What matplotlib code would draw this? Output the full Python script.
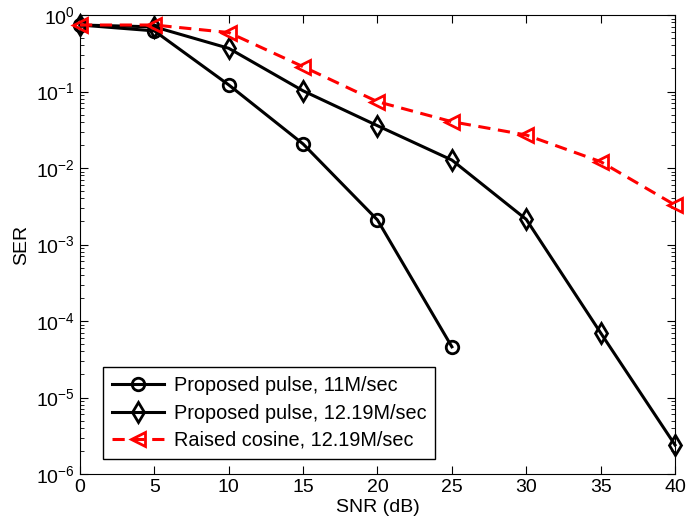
# SER vs SNR curves - proposed pulses vs raised cosine
import matplotlib
matplotlib.use("Agg")
import matplotlib.pyplot as plt

plt.rcParams["font.family"] = ["Liberation Sans", "DejaVu Sans"]
plt.rcParams["mathtext.fontset"] = "custom"
plt.rcParams["mathtext.rm"] = "Liberation Sans"
plt.rcParams["mathtext.it"] = "Liberation Sans"

snr = [0, 5, 10, 15, 20, 25, 30, 35, 40]
snr_11m = [0, 5, 10, 15, 20, 25]

ser_11m = [0.74, 0.62, 0.122, 0.0206, 0.00209, 4.6e-5]
ser_1219m = [0.74, 0.70, 0.367, 0.102, 0.0357, 0.0127, 0.00213, 7.0e-5, 2.4e-6]
ser_rc = [0.74, 0.74, 0.59, 0.211, 0.0736, 0.0403, 0.027, 0.0121, 0.00328]

labels = ["Proposed pulse, 11M/sec",
          "Proposed pulse, 12.19M/sec",
          "Raised cosine, 12.19M/sec"]

fig = plt.figure(figsize=(6.86, 5.29), dpi=100)
ax = fig.add_axes([80 / 686, 1 - 474 / 529, 595 / 686, 459 / 529])

ax.semilogy(snr_11m, ser_11m, "k-o", lw=2.2, ms=9, mew=2, mfc="none",
            label=labels[0], clip_on=False, zorder=3)
ax.semilogy(snr, ser_1219m, "k-d", lw=2.2, ms=10, mew=2, mfc="none",
            label=labels[1], clip_on=False, zorder=3)
ax.semilogy(snr, ser_rc, "r--<", lw=2.2, ms=10, mew=2, mfc="none",
            label=labels[2], dashes=(4, 2.5), clip_on=False, zorder=4)

ax.set_xlim(0, 40)
ax.set_ylim(1e-6, 1)
ax.set_xticks(range(0, 41, 5))
ax.set_yticks([10.0 ** k for k in range(-6, 1)])
ax.set_yticklabels(["$10^{%d}$" % k for k in range(-6, 1)])
ax.tick_params(which="both", direction="in", top=True, right=True, labelsize=14)
ax.tick_params(which="major", length=6)
ax.tick_params(which="minor", length=3)
ax.tick_params(axis="x", which="minor", bottom=False, top=False)
ax.set_xlabel("SNR (dB)", fontsize=14, labelpad=2)
ax.set_ylabel("SER", fontsize=14, labelpad=4)

leg = ax.legend(loc="lower left", bbox_to_anchor=(0.039, 0.033), borderaxespad=0,
                fontsize=14.3, handlelength=2.6, fancybox=False, framealpha=1,
                edgecolor="black", borderpad=0.45, labelspacing=0.42, handletextpad=0.5)
leg.get_frame().set_linewidth(1.0)

fig.savefig("out.png", dpi=100)
